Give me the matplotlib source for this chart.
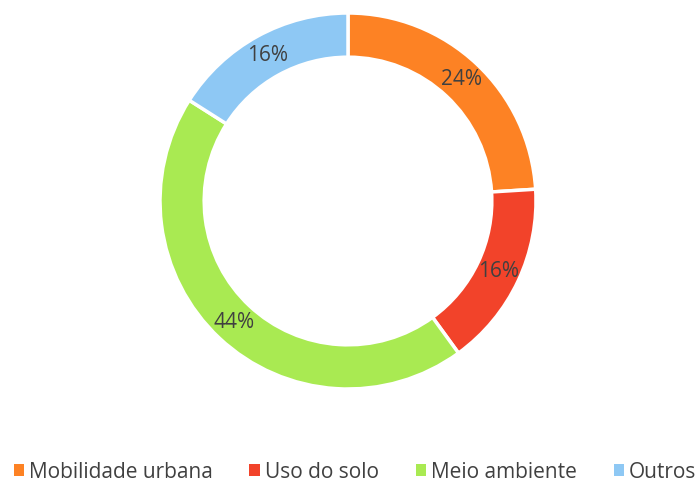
import matplotlib.pyplot as plt
from matplotlib.patches import Patch

plt.rcParams['font.family'] = ['Open Sans', 'DejaVu Sans']

# dados
categorias = ['Mobilidade urbana', 'Uso do solo', 'Meio ambiente', 'Outros']
valores = [24, 16, 44, 16]
cores = ['#FD8224', '#F2432A', '#A9EA52', '#8EC8F4']
cor_texto = '#404040'

fig = plt.figure(figsize=(7, 4.83), dpi=100)
ax = fig.add_axes([160 / 700, (483 - 389) / 483, 376 / 700, 376 / 483])

wedges, textos = ax.pie(valores,
                        colors=cores,
                        startangle=90,
                        counterclock=False,
                        radius=1,
                        labels=[f'{v}%' for v in valores],
                        labeldistance=0.883,
                        wedgeprops={'width': 0.235, 'edgecolor': 'white', 'linewidth': 2.5},
                        textprops={'fontsize': 15, 'color': cor_texto})
for t in textos:
    t.set_horizontalalignment('center')
    t.set_verticalalignment('center')

ax.set_xlim(-1, 1)
ax.set_ylim(-1, 1)
ax.set_aspect('equal')
ax.axis('off')

handles = [Patch(facecolor=c, label=l) for c, l in zip(cores, categorias)]
fig.legend(handles=handles,
           loc='center right',
           bbox_to_anchor=(0.995, (483 - 472) / 483),
           ncol=4,
           frameon=False,
           handlelength=0.5,
           handleheight=0.5,
           handletextpad=0.25,
           columnspacing=1.75,
           borderaxespad=0,
           borderpad=0,
           prop={'size': 15},
           labelcolor=cor_texto)

plt.savefig('out.png', dpi=100)
